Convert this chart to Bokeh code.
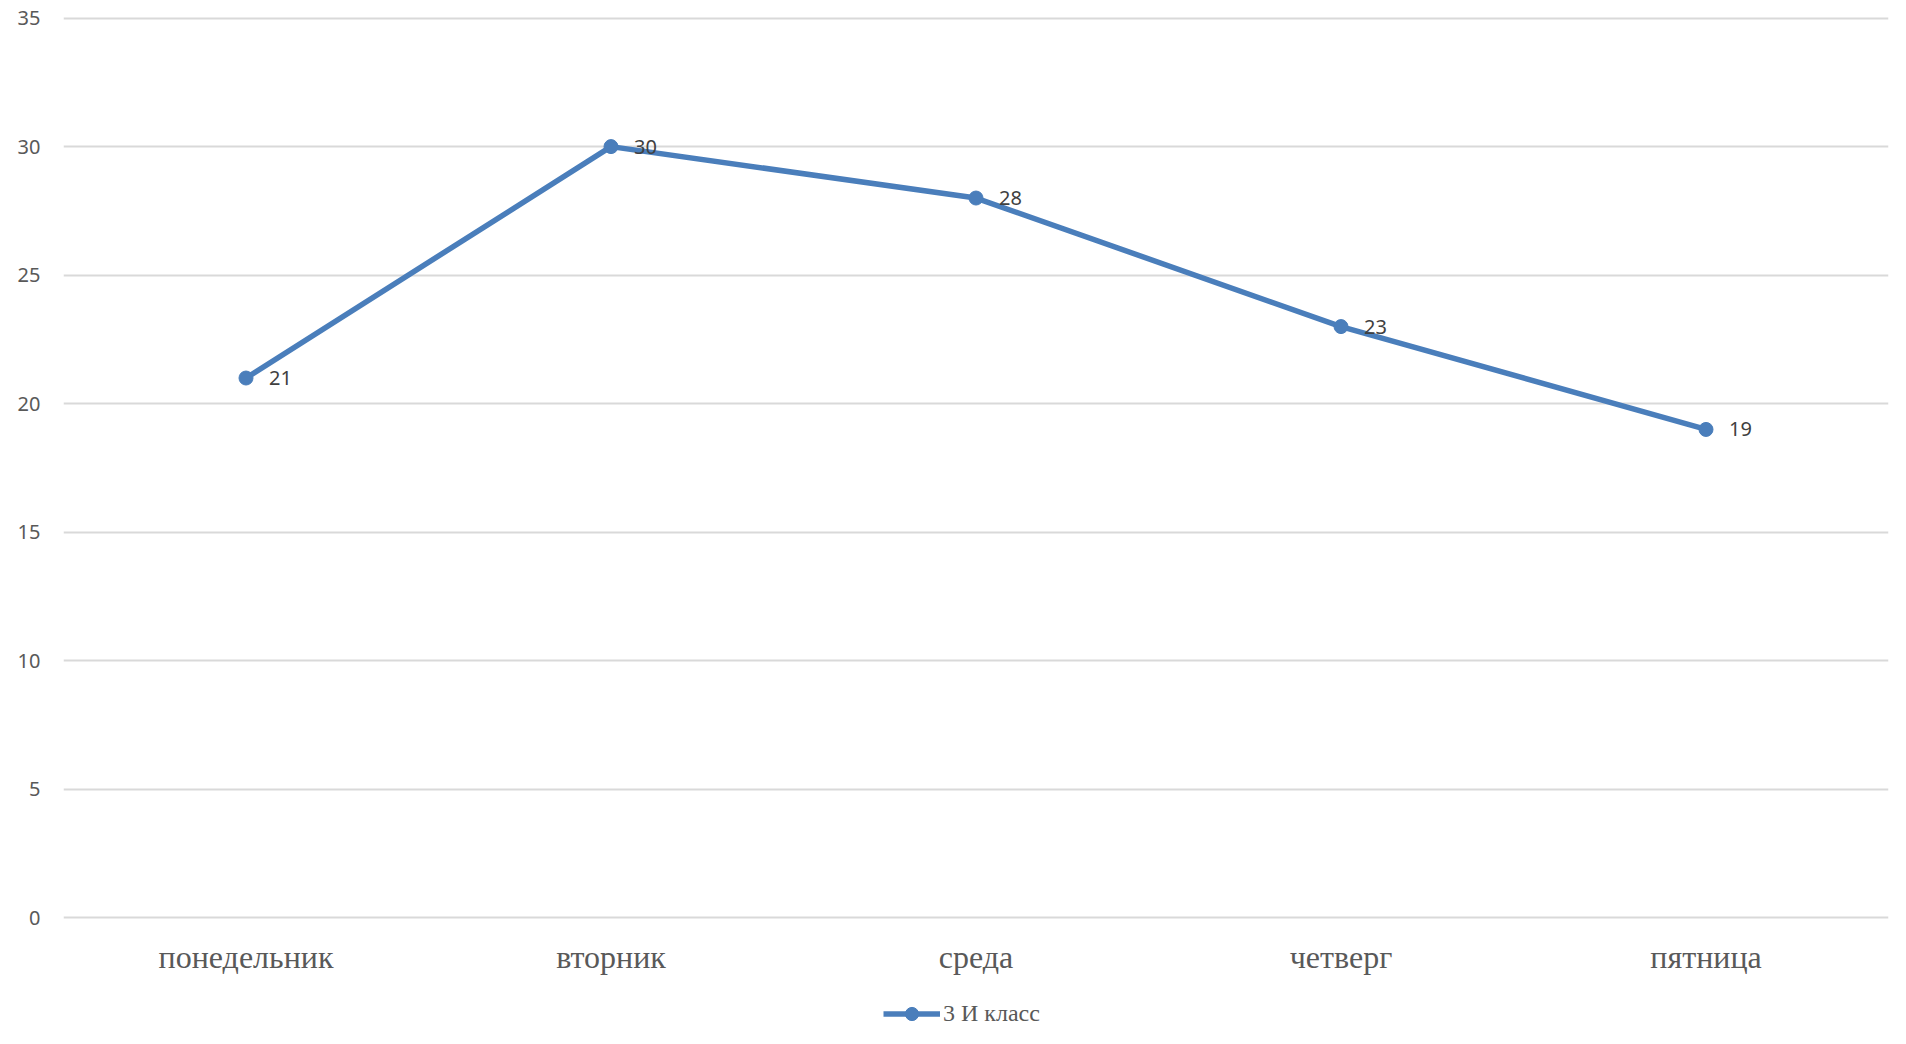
from bokeh.plotting import figure
from bokeh.models import Range1d, FixedTicker, Legend, LegendItem, ColumnDataSource, FactorRange
from bokeh.core.properties import value
from bokeh.embed import file_html
from bokeh.resources import INLINE

days = ["понедельник", "вторник", "среда", "четверг", "пятница"]
counts = [21, 30, 28, 23, 19]
series_name = "3 И класс"
y_ticks = [0, 5, 10, 15, 20, 25, 30, 35]

color = "#4a7ebb"
src = ColumnDataSource(dict(x=days, y=counts, lbl=[str(v) for v in counts]))

# frame spans the legend area as well; grid/axis ticks are restricted to 0..35
p = figure(width=1898, height=1040, x_range=FactorRange(*days, range_padding=0),
           y_range=Range1d(-4.609, 35.06), output_backend="svg", toolbar_location=None,
           min_border_left=63, min_border_right=10, min_border_top=16, min_border_bottom=4)
p.outline_line_color = None
p.background_fill_color = "white"
p.border_fill_color = "white"

p.xgrid.visible = False
p.ygrid.grid_line_color = "#d9d9d9"
p.ygrid.grid_line_width = 2
p.yaxis.ticker = FixedTicker(ticks=y_ticks)
p.yaxis.axis_line_color = None
p.yaxis.major_tick_line_color = None
p.yaxis.minor_tick_line_color = None
p.yaxis.major_tick_out = 0
p.yaxis.major_tick_in = 0
p.yaxis.major_label_standoff = 23
p.yaxis.major_label_text_font = "Noto Sans"
p.yaxis.major_label_text_font_size = "20px"
p.yaxis.major_label_text_color = "#595959"

p.xaxis.fixed_location = 0
p.xaxis.axis_line_color = None
p.xaxis.major_tick_line_color = None
p.xaxis.major_tick_out = 0
p.xaxis.major_tick_in = 0
p.xaxis.major_label_standoff = 21
p.xaxis.major_label_text_font = "Liberation Serif"
p.xaxis.major_label_text_font_size = "32px"
p.xaxis.major_label_text_color = "#595959"

ln = p.line("x", "y", source=src, line_color=color, line_width=5.5)
sc = p.scatter("x", "y", source=src, size=14, fill_color=color, line_color=color)
p.text("x", "y", text="lbl", source=src, x_offset=23, text_baseline="middle",
       text_align="left", text_font=value("Noto Sans"), text_font_size="20px",
       text_color="#404040")

legend = Legend(items=[LegendItem(label=series_name, renderers=[ln, sc])],
                orientation="horizontal", location=(820, 6),
                label_text_font="Liberation Serif", label_text_font_size="24px",
                label_text_color="#595959", glyph_width=57, glyph_height=33,
                label_standoff=3, border_line_color=None, background_fill_alpha=0,
                margin=0, padding=0)
p.add_layout(legend, "center")

open("out.html", "w").write(file_html(p, INLINE))
